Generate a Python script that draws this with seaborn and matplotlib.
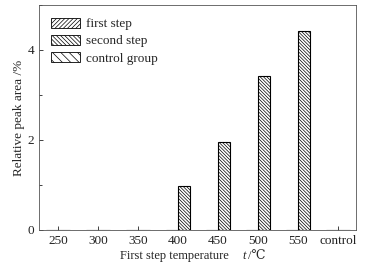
import pandas as pd
import matplotlib
matplotlib.use("Agg")
import matplotlib.pyplot as plt
import matplotlib.patches as mpatches
from matplotlib.ticker import MultipleLocator
import seaborn as sns

# values
categories = ["250", "300", "350", "400", "450", "500", "550", "control"]
first_step = [0, 0, 0, 0, 0, 0, 0, 0]
second_step = [0, 0, 0, 0.97, 1.95, 3.43, 4.42, 0]
control_group = [0, 0, 0, 0, 0, 0, 0, 0]

df = pd.DataFrame({
    "Temperature": categories * 2,
    "Value": first_step + second_step,
    "Step": ["first step"] * len(categories) + ["second step"] * len(categories),
})

sns.set_style("ticks")
plt.rcParams["font.family"] = ["Liberation Serif", "DejaVu Serif"]
plt.rcParams["hatch.linewidth"] = 0.5

fig = plt.figure(figsize=(3.65, 2.66), dpi=100)
ax = fig.add_axes([39 / 365, 36 / 266, 317 / 365, 225 / 266])

sns.barplot(data=df, x="Temperature", y="Value", hue="Step", order=categories,
            hue_order=["first step", "second step"], width=0.6,
            palette=["white", "white"], edgecolor="black", linewidth=0.8,
            legend=False, ax=ax)

hatches = ["//////////", "\\\\\\\\\\\\\\\\\\\\"]
for container, h in zip(ax.containers, hatches):
    for bar in container:
        bar.set_hatch(h)

ax.set_ylim(0, 5)
ax.set_xlim(-0.475, 7.45)
ax.yaxis.set_major_locator(MultipleLocator(2))
ax.yaxis.set_minor_locator(MultipleLocator(1))
ax.tick_params(axis="both", which="both", direction="in", labelsize=9.5,
               top=False, right=False, colors="#222222")
ax.tick_params(axis="both", which="major", length=3, width=0.6)
ax.tick_params(axis="y", which="minor", length=2, width=0.6)
for s in ax.spines.values():
    s.set_linewidth(0.6)
    s.set_color("#555555")

ax.set_xlabel("")
ax.set_ylabel("Relative peak area /%", fontsize=9.5, labelpad=2)

# x label: plain part, italic t, then unit
lab_y = 4 / 266
fig.text(120 / 365, lab_y, "First step temperature", fontsize=9, ha="left", va="bottom")
fig.text(242 / 365, lab_y, "t", fontsize=9, style="italic", ha="left", va="bottom")
fig.text(248 / 365, lab_y, "/\u2103", fontsize=9, ha="left", va="bottom")

handles = [
    mpatches.Patch(facecolor="white", edgecolor="black", hatch="////////", linewidth=0.6, label="first step"),
    mpatches.Patch(facecolor="white", edgecolor="black", hatch="\\\\\\\\\\\\\\\\", linewidth=0.6, label="second step"),
    mpatches.Patch(facecolor="white", edgecolor="black", hatch="\\\\\\\\", linewidth=0.6, label="control group"),
]
ax.legend(handles=handles, loc="upper left", frameon=False, fontsize=9.5,
          handlelength=2.2, handleheight=0.85, handletextpad=0.45,
          labelspacing=0.32, borderaxespad=0.3, bbox_to_anchor=(0.01, 0.985))

fig.savefig("out.png", dpi=100)
